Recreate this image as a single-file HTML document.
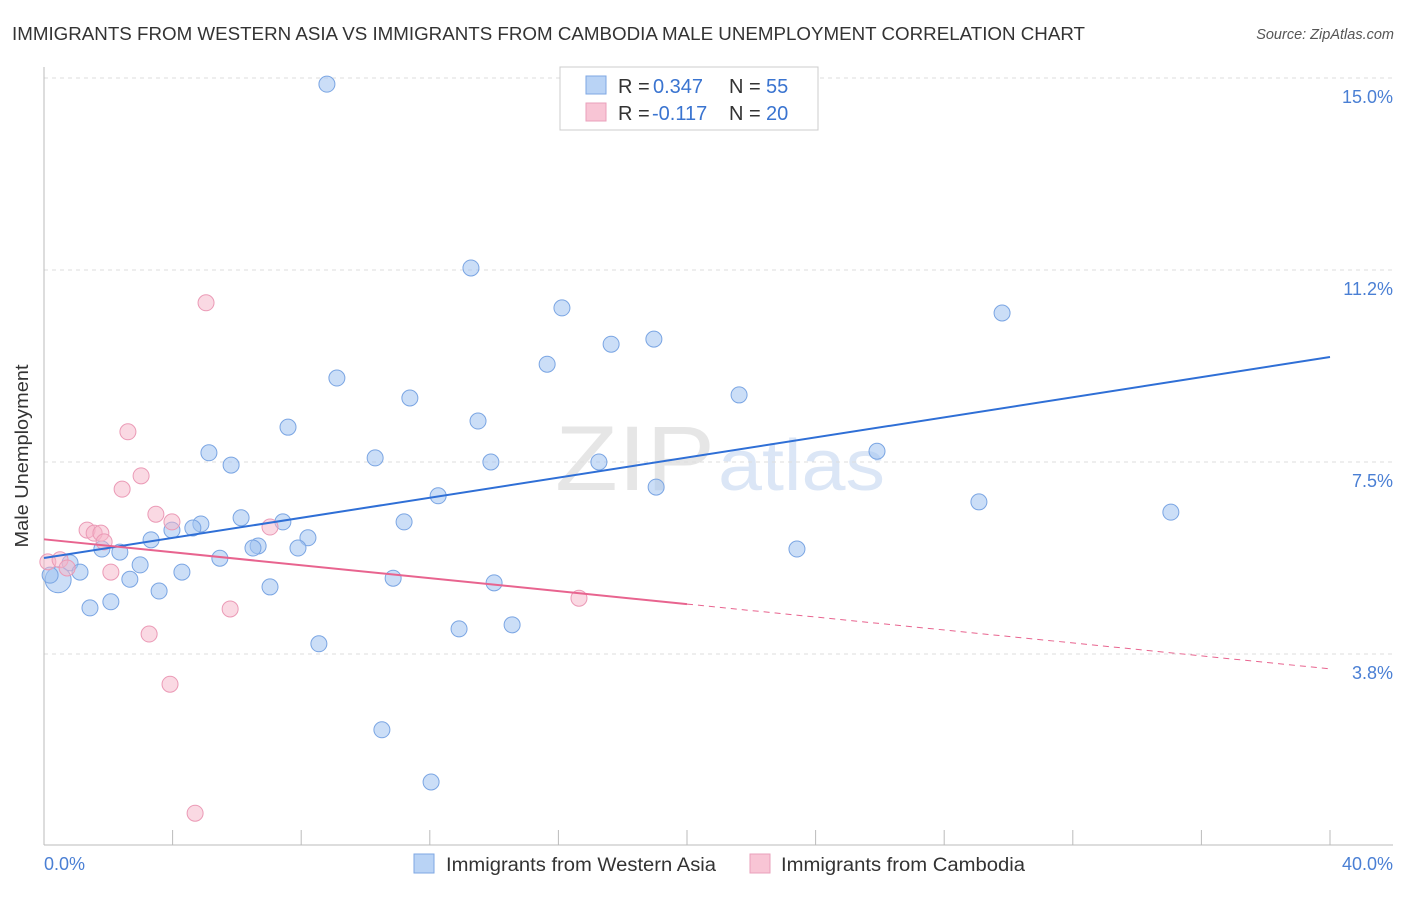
<!DOCTYPE html>
<html><head><meta charset="utf-8"><style>
body{margin:0;background:#fff;font-family:"Liberation Sans",sans-serif}
svg text{font-family:"Liberation Sans",sans-serif}
</style></head><body>
<svg id="chart" width="1406" height="892" viewBox="0 0 1406 892">
<text x="12" y="40" font-size="18" fill="#333" textLength="1073" lengthAdjust="spacingAndGlyphs">IMMIGRANTS FROM WESTERN ASIA VS IMMIGRANTS FROM CAMBODIA MALE UNEMPLOYMENT CORRELATION CHART</text>
<text x="1394" y="39" font-size="14.5" fill="#555" font-style="italic" text-anchor="end">Source: ZipAtlas.com</text>
<text x="555" y="490" font-size="92" fill="#e6e6e6" textLength="160" lengthAdjust="spacingAndGlyphs" font-family="Liberation Serif">ZIP</text>
<text x="718" y="490" font-size="72" fill="#dbe6f6" textLength="167" lengthAdjust="spacingAndGlyphs">atlas</text>
<g id="grid"></g>
<g id="axes"></g>
<g id="marks"></g>
<text x="28" y="456" font-size="18.5" fill="#333" text-anchor="middle" transform="rotate(-90 28 456)" textLength="183" lengthAdjust="spacingAndGlyphs">Male Unemployment</text>
<text x="44" y="870" font-size="18" fill="#4a7fd4">0.0%</text>
<text x="1393" y="870" font-size="18" fill="#4a7fd4" text-anchor="end">40.0%</text>
<g>
<rect x="560" y="67" width="258" height="63" fill="#fff" stroke="#ccc"/>
<rect x="586" y="76" width="20" height="18" fill="#b9d3f5" stroke="#7ea7e3"/>
<rect x="586" y="103" width="20" height="18" fill="#f8c5d5" stroke="#eaa0bb"/>
<text x="618" y="93" font-size="20" fill="#333">R =</text>
<text x="653" y="93" font-size="20" fill="#3a74d0">0.347</text>
<text x="729" y="93" font-size="20" fill="#333">N =</text>
<text x="766" y="93" font-size="20" fill="#3a74d0">55</text>
<text x="618" y="120" font-size="20" fill="#333">R =</text>
<text x="652" y="120" font-size="20" fill="#3a74d0">-0.117</text>
<text x="729" y="120" font-size="20" fill="#333">N =</text>
<text x="766" y="120" font-size="20" fill="#3a74d0">20</text>
</g>
<g>
<rect x="414" y="854" width="20" height="19" fill="#b9d3f5" stroke="#7ea7e3"/>
<text x="446" y="871" font-size="19" fill="#333" textLength="270" lengthAdjust="spacingAndGlyphs">Immigrants from Western Asia</text>
<rect x="750" y="854" width="20" height="19" fill="#f8c5d5" stroke="#eaa0bb"/>
<text x="781" y="871" font-size="19" fill="#333" textLength="244" lengthAdjust="spacingAndGlyphs">Immigrants from Cambodia</text>
</g>
</svg>
<script>
const yTicks=[3.75,7.5,11.25,15.0];
const yTickLabels=["3.8%","7.5%","11.2%","15.0%"];
const xTicks=[0,4,8,12,16,20,24,28,32,36,40];
const blueX=[8.80,13.28,16.11,29.80,17.64,18.97,15.65,9.11,11.38,21.62,13.50,7.59,5.13,5.82,10.30,13.90,17.26,25.91,19.04,12.26,29.08,35.05,6.13,7.43,11.20,4.88,4.63,3.98,3.33,8.21,6.66,6.50,7.90,2.36,1.80,23.42,5.47,2.99,0.81,1.12,4.29,0.44,2.67,10.86,14.00,7.03,3.58,2.08,1.43,14.56,12.91,8.55,10.51,12.04,0.19];
const blueY=[14.88,11.29,10.51,10.41,9.80,9.90,9.41,9.14,8.75,8.81,8.30,8.18,7.68,7.44,7.58,7.50,7.50,7.71,7.01,6.84,6.72,6.52,6.41,6.33,6.33,6.29,6.21,6.17,5.98,6.02,5.86,5.82,5.82,5.74,5.80,5.80,5.62,5.49,5.53,5.35,5.35,5.20,5.21,5.23,5.14,5.06,4.98,4.77,4.65,4.32,4.24,3.95,2.27,1.25,5.29];
const pinkX=[5.04,2.61,3.02,2.43,3.48,3.98,1.34,1.56,1.77,7.03,1.87,0.12,0.50,0.72,2.08,5.79,16.64,3.27,3.92,4.70];
const pinkY=[10.61,8.09,7.23,6.97,6.48,6.33,6.17,6.11,6.11,6.23,5.94,5.55,5.59,5.43,5.35,4.63,4.84,4.14,3.16,0.64];
const blueTrend=[5.625,9.55];
const pinkTrend=[5.99,3.46];
const pinkSolidEnd=20;
const NS="http://www.w3.org/2000/svg";
const X=v=>44+v*32.15, Y=v=>462-(v-7.5)*51.2;
function mk(tag,a,p){const e=document.createElementNS(NS,tag);for(const k in a)e.setAttribute(k,a[k]);p.appendChild(e);return e;}
const grid=document.getElementById('grid'),axes=document.getElementById('axes'),marks=document.getElementById('marks');
yTicks.forEach((t,i)=>{const l=mk('line',{x1:44,x2:1393,y1:Y(t),y2:Y(t),stroke:'#ddd','stroke-dasharray':'4,4'},grid);


const tx=mk('text',{x:1393,y:Y(t)+25,'font-size':18,fill:'#4a7fd4','text-anchor':'end'},grid);tx.textContent=yTickLabels[i];

});
const ax=mk('line',{x1:44,x2:1393,y1:845,y2:845,stroke:'#bbb'},axes);


const ay=mk('line',{x1:44,x2:44,y1:67,y2:845,stroke:'#bbb'},axes);


xTicks.forEach(t=>{const l=mk('line',{x1:X(t),x2:X(t),y1:830,y2:845,stroke:'#bbb'},axes);

});
blueX.forEach((x,i)=>{const big=(i===41);const c=mk('circle',{cx:X(x),cy:Y(blueY[i]),r:big?13:8,fill:'rgba(160,195,240,0.55)',stroke:'#7aa5e3','stroke-width':1},marks);

});
pinkX.forEach((x,i)=>{const c=mk('circle',{cx:X(x),cy:Y(pinkY[i]),r:8,fill:'rgba(245,180,200,0.5)',stroke:'#eb9ab6','stroke-width':1},marks);

});
const bt=mk('line',{x1:X(0),y1:Y(blueTrend[0]),x2:X(40),y2:Y(blueTrend[1]),stroke:'#2f6fd6','stroke-width':2},marks);


const pm=pinkTrend[0]+(pinkTrend[1]-pinkTrend[0])*pinkSolidEnd/40;
const pt=mk('line',{x1:X(0),y1:Y(pinkTrend[0]),x2:X(pinkSolidEnd),y2:Y(pm),stroke:'#e8648f','stroke-width':2},marks);


const pd=mk('line',{x1:X(pinkSolidEnd),y1:Y(pm),x2:X(40),y2:Y(pinkTrend[1]),stroke:'#e8648f','stroke-width':1,'stroke-dasharray':'6,5'},marks);


</script>
</body></html>
